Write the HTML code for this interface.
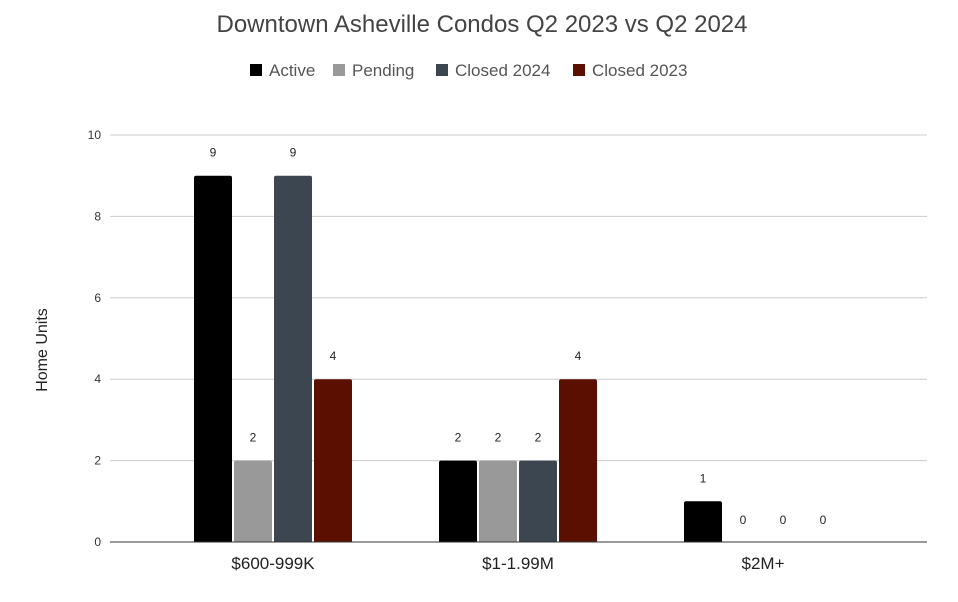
<!DOCTYPE html>
<html><head><meta charset="utf-8"><style>
body{margin:0;background:#fff;}
svg{display:block;font-family:"Liberation Sans",Arial,sans-serif;}
</style></head><body>
<svg width="958" height="602" viewBox="0 0 958 602">
<text x="482" y="32" text-anchor="middle" font-size="24" fill="#444">Downtown Asheville Condos Q2 2023 vs Q2 2024</text>
<g id="legend"></g>
<g id="grid"></g>
<g id="bars"></g>
<text transform="translate(47,350) rotate(-90)" text-anchor="middle" font-size="16" fill="#222">Home Units</text>
</svg>
<script>
const categories = ["$600-999K", "$1-1.99M", "$2M+"];
const seriesNames = ["Active", "Pending", "Closed 2024", "Closed 2023"];
const active = [9, 2, 1];
const pending = [2, 2, 0];
const closed2024 = [9, 2, 0];
const closed2023 = [4, 4, 0];
const yTicks = [0, 2, 4, 6, 8, 10];

const series = [active, pending, closed2024, closed2023];
const colors = ["#000000", "#999999", "#3c4650", "#5b0f00"];
const NS = "http://www.w3.org/2000/svg";
const plotLeft = 110, plotRight = 927, plotTop = 135, plotBottom = 542, yMax = 10;
const yScale = v => plotBottom - (v / yMax) * (plotBottom - plotTop);
const groupGap = 245, midX = 518;
const xc = i => midX + (i - (categories.length - 1) / 2) * groupGap;
const pitch = 40, barW = 38;
function mk(tag, attrs, parent) { const e = document.createElementNS(NS, tag); for (const k in attrs) e.setAttribute(k, attrs[k]); parent.appendChild(e); return e; }

const grid = document.getElementById('grid');
yTicks.forEach(t => {
  if (t !== 0) {
    const l = mk('line', {x1: plotLeft, x2: plotRight, y1: yScale(t), y2: yScale(t), stroke: '#cccccc', 'stroke-width': 1}, grid);
    
    
  }
  const tx = mk('text', {x: 101, y: yScale(t) + 4, 'text-anchor': 'end', 'font-size': 12, fill: '#333'}, grid);
  tx.textContent = t;
  
  
});

const bars = document.getElementById('bars');
categories.forEach((c, i) => {
  series.forEach((s, j) => {
    const x0 = xc(i) + (j - 2) * pitch + 1;
    const v = s[i];
    if (v > 0) {
      const yt = yScale(v);
      const r = mk('path', {d: `M${x0},${plotBottom} V${yt+2} Q${x0},${yt} ${x0+2},${yt} H${x0+barW-2} Q${x0+barW},${yt} ${x0+barW},${yt+2} V${plotBottom} Z`, fill: colors[j]}, bars);
      
      
    }
    const lt = mk('text', {x: x0 + barW / 2, y: v > 0 ? yScale(v) - 19 : plotBottom - 18, 'text-anchor': 'middle', 'font-size': 12, fill: '#222'}, bars);
    lt.textContent = v;
    
    
  });
  const cl = mk('text', {x: xc(i), y: 569, 'text-anchor': 'middle', 'font-size': 17, fill: '#222'}, bars);
  cl.textContent = c;
  
  
});
const base = mk('line', {x1: plotLeft, x2: plotRight, y1: plotBottom, y2: plotBottom, stroke: '#333', 'stroke-width': 1}, bars);



const legend = document.getElementById('legend');
const lx = [250, 333, 436, 573];
seriesNames.forEach((n, j) => {
  const g = mk('g', {}, legend);
  
  
  mk('rect', {x: lx[j], y: 64, width: 12, height: 12, fill: colors[j]}, g);
  const t = mk('text', {x: lx[j] + 19, y: 76, 'font-size': 17, fill: '#555'}, g);
  t.textContent = n;
});
</script>
</body></html>
